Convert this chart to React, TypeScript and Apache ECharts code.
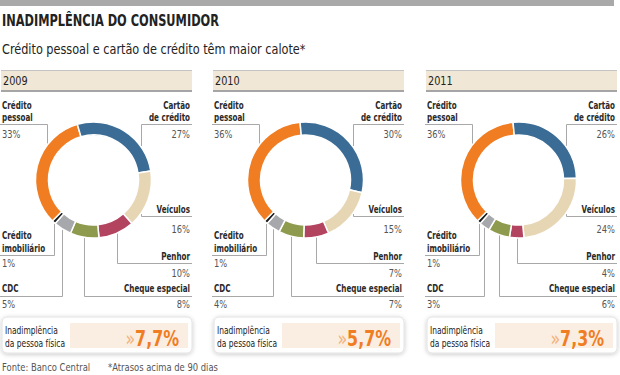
import React, { useEffect, useRef } from "react";
import * as echarts from "echarts";

const title = "INADIMPLÊNCIA DO CONSUMIDOR";
const subtitle = "Crédito pessoal e cartão de crédito têm maior calote*";
const years = ["2009", "2010", "2011"];
const categories = [
  "Crédito pessoal",
  "Cartão de crédito",
  "Veículos",
  "Penhor",
  "Cheque especial",
  "CDC",
  "Crédito imobiliário",
];
const categoryLabels = [
  ["Crédito", "pessoal"],
  ["Cartão", "de crédito"],
  ["Veículos"],
  ["Penhor"],
  ["Cheque especial"],
  ["CDC"],
  ["Crédito", "imobiliário"],
];
const values2009 = [33, 27, 16, 10, 8, 5, 1];
const values2010 = [36, 30, 15, 7, 7, 4, 1];
const values2011 = [36, 26, 24, 4, 6, 3, 1];
const seriesValues = [values2009, values2010, values2011];
const defaultRates = ["7,7%", "5,7%", "7,3%"];
const rateLabel = ["Inadimplência", "da pessoa física"];
const source = "Fonte: Banco Central";
const note = "*Atrasos acima de 90 dias";

const colors = ["#f07d22", "#3b6c95", "#e6d6b4", "#b3445f", "#8e9a4d", "#a7a8ab", "#1a1a1a"];
const FONT = "'Liberation Sans Narrow', 'DejaVu Sans Condensed', 'Roboto', sans-serif";

const panelLeft = [0, 212, 425];
const CY = 180;
const R_OUT = 58;
const R_IN = 45;
const START = 225;

const layout = [
  { side: "left", names: [105.5, 117.5], lineY: 124, pctY: 134, attach: -47 },
  { side: "right", names: [105.5, 117.5], lineY: 124, pctY: 134, attach: 47 },
  { side: "right", names: [209], lineY: 216, pctY: 229, attach: 47 },
  { side: "right", names: [256], lineY: 263, pctY: 273, attach: null },
  { side: "right", names: [288], lineY: 296, pctY: 304, attach: null },
  { side: "left", names: [288], lineY: 296, pctY: 304, attach: null },
  { side: "left", names: [235, 248], lineY: 255, pctY: 263, attach: null },
];

function txt(text: string, x: number, y: number, font: string, fill: string, align: string, sx: number) {
  return {
    type: "text",
    x,
    y,
    scaleX: sx,
    style: { text, x: 0, y: 0, font, fill, align, verticalAlign: "middle" },
  };
}

function buildGraphics() {
  const g: any[] = [];
  g.push({ type: "rect", shape: { x: 0, y: 0, width: 614, height: 6 }, style: { fill: "#a9a9a9" } });
  g.push(txt(title, 2, 20, `bold 16px ${FONT}`, "#222", "left", 0.79));
  g.push(txt(subtitle, 2, 49, `13.5px ${FONT}`, "#222", "left", 0.93));
  const lineStyle = { stroke: "#a8a8a8", lineWidth: 1, fill: "none" };

  panelLeft.forEach((L, p) => {
    const cx = L + 93.5;
    const vals = seriesValues[p];
    g.push({ type: "rect", shape: { x: L + 1, y: 70, width: 191, height: 21 }, style: { fill: "#f0e7d6" } });
    g.push({ type: "line", shape: { x1: L + 1, y1: 70.5, x2: L + 192, y2: 70.5 }, style: { stroke: "#c4c4c4", lineWidth: 1 } });
    g.push({ type: "line", shape: { x1: L + 1, y1: 91, x2: L + 192, y2: 91 }, style: { stroke: "#a5a5a5", lineWidth: 2 } });
    g.push(txt(years[p], L + 3, 81, `12px ${FONT}`, "#222", "left", 0.9));

    let cum = 0;
    vals.forEach((v, i) => {
      const lay = layout[i];
      let xv: number;
      let yRing: number;
      if (lay.attach !== null) {
        xv = cx + lay.attach;
        const dy = Math.sqrt(R_OUT * R_OUT - lay.attach * lay.attach);
        yRing = lay.lineY < CY ? CY - dy : CY + dy;
      } else {
        const th = ((START - 3.6 * (cum + v / 2)) * Math.PI) / 180;
        xv = cx + R_OUT * Math.cos(th);
        yRing = CY - R_OUT * Math.sin(th);
      }
      cum += v;
      const left = lay.side === "left";
      const xEdge = left ? L : L + 192;
      g.push({
        type: "polyline",
        shape: { points: [[xEdge, lay.lineY + 0.5], [Math.round(xv) + 0.5, lay.lineY + 0.5], [Math.round(xv) + 0.5, yRing]] },
        style: lineStyle,
      });
      const tx = left ? L + 2 : L + 190;
      categoryLabels[i].forEach((t, k) => {
        g.push(txt(t, tx, lay.names[k], `bold 10.5px ${FONT}`, "#2a2a2a", left ? "left" : "right", 0.76));
      });
      g.push(txt(v + "%", tx, lay.pctY, `10.5px ${FONT}`, "#555", left ? "left" : "right", 0.88));
    });

    g.push({
      type: "rect",
      shape: { x: L + 2, y: 317, width: 190, height: 36, r: 5 },
      style: { fill: "#fff", stroke: "#e2e2e2", lineWidth: 1, shadowBlur: 4, shadowColor: "rgba(0,0,0,0.22)", shadowOffsetY: 1 },
    });
    g.push({ type: "rect", shape: { x: L + 70, y: 323, width: 118, height: 25 }, style: { fill: "#faeee2" } });
    g.push(txt(rateLabel[0], L + 5, 330, `11px ${FONT}`, "#222", "left", 0.76));
    g.push(txt(rateLabel[1], L + 5, 343, `11px ${FONT}`, "#222", "left", 0.76));
    g.push({
      type: "text",
      x: L + 179,
      y: 339,
      scaleX: 0.8,
      style: {
        text: "{a|»}{b|" + defaultRates[p] + "}",
        x: 0,
        y: 0,
        align: "right",
        verticalAlign: "middle",
        rich: {
          a: { font: `22px ${FONT}`, fill: "#f4b27c", verticalAlign: "middle" },
          b: { font: `bold 22px ${FONT}`, fill: "#f07d22", verticalAlign: "middle" },
        },
      },
    });
  });

  g.push(txt(source, 2, 367, `11px ${FONT}`, "#555", "left", 0.85));
  g.push(txt(note, 108, 367, `11px ${FONT}`, "#555", "left", 0.85));
  return g;
}

export default function App() {
  const ref = useRef<HTMLDivElement>(null);
  useEffect(() => {
    if (!ref.current) return;
    const chart = echarts.init(ref.current, null, { renderer: "svg" });
    const series = seriesValues.map((vals, p) => ({
      type: "pie",
      name: years[p],
      center: [panelLeft[p] + 93.5, CY],
      radius: [R_IN, R_OUT],
      startAngle: START,
      clockwise: true,
      silent: true,
      label: { show: false },
      labelLine: { show: false },
      itemStyle: { borderColor: "#fff", borderWidth: 1.5 },
      emphasis: { disabled: true },
      data: vals.map((v, i) => ({ name: categories[i], value: v, itemStyle: { color: colors[i] } })),
    }));
    chart.setOption({
      animation: false,
      backgroundColor: "#fff",
      series,
      graphic: { elements: buildGraphics() },
    });
    return () => chart.dispose();
  }, []);
  return <div ref={ref} style={{ position: "fixed", left: 0, top: 0, width: 620, height: 375 }} />;
}
